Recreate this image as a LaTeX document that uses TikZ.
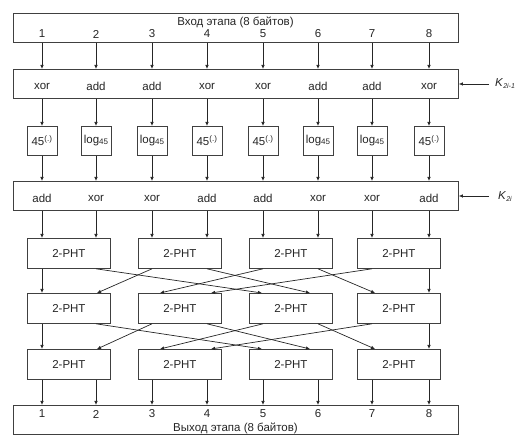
\documentclass[tikz,border=0pt]{standalone}
\usepackage{fontspec}
\setmainfont{Liberation Sans}
\usetikzlibrary{arrows.meta}
\begin{document}
\begin{tikzpicture}[x=1pt,y=-1pt,
  box/.style={draw=black!75, line width=0.8pt, inner sep=0pt, fill=white},
  wide/.style={box, anchor=north west, minimum width=445pt, minimum height=29pt},
  sbox/.style={box, anchor=north, minimum width=30pt, minimum height=29pt},
  pht/.style={box, anchor=north west, minimum width=83pt, minimum height=30pt},
  arr/.style={-{Latex[length=4pt,width=3.5pt]}, line width=0.7pt, draw=black!85},
  lbl/.style={font=\fontsize{11.5}{13}\selectfont, inner sep=0pt, text=black!85}]
\useasboundingbox (0,0) rectangle (525,443);
% columns
\foreach \i/\x in {1/42,2/96,3/152,4/207,5/263,6/318,7/372,8/429}
  \coordinate (c\i) at (\x,0);
% shuffled input positions for PHT rows 2 and 3
\foreach \i/\x in {1/42,2/97,3/160,4/211,5/262,6/310,7/375,8/429}
  \coordinate (d\i) at (\x,0);

% wide boxes
\node[wide] (in) at (13,13) {};
\node[wide] (x1) at (13,69) {};
\node[wide] (x2) at (13,181) {};
\node[wide] (out) at (13,405) {};

\node[lbl] (tin) at (235.5,22) {Вход этапа (8 байтов)};
\node[lbl] (tout) at (235.5,428) {Выход этапа (8 байтов)};
\foreach \i in {1,...,8} {
  \node[lbl] (nin\i) at (c\i |- 0,34) {\i};
  \node[lbl] (nout\i) at (c\i |- 0,414) {\i};
}

% key mixing operations
\foreach \i/\t in {1/xor,2/add,3/add,4/xor,5/xor,6/add,7/add,8/xor}
  \node[lbl] (o1\i) at (c\i |- 0,86) {\t};
\foreach \i/\t in {1/add,2/xor,3/xor,4/add,5/add,6/xor,7/xor,8/add}
  \node[lbl] (o2\i) at (c\i |- 0,198) {\t};

% nonlinear boxes
\newcommand{\expo}{45\textsuperscript{(.)}}
\newcommand{\logf}{log\raisebox{-0.8pt}{\fontsize{8}{9}\selectfont 45}}
\foreach \i/\t in {1/\expo,2/\logf,3/\logf,4/\expo,5/\expo,6/\logf,7/\logf,8/\expo}
  \node[sbox, lbl, draw=black!75] (s\i) at (c\i |- 0,126) {\t};

% PHT boxes
\foreach \r/\y in {1/238,2/293,3/349}
  \foreach \j/\x in {1/27,2/138,3/249,4/357}
    \node[pht, lbl, draw=black!75] (p\r\j) at (\x,\y) {2-PHT};

% keys
\node[lbl, anchor=west] (k1) at (495,84) {\textit{K}\raisebox{-2pt}{\fontsize{7}{8}\selectfont\itshape 2i-1}};
\node[lbl, anchor=west] (k2) at (498,197) {\textit{K}\raisebox{-2pt}{\fontsize{7}{8}\selectfont\itshape 2i}};
\coordinate (k1s) at (489,84);
\coordinate (k2s) at (489,196);
\draw[arr] (k1s) -- (x1.east |- k1s);
\draw[arr] (k2s) -- (x2.east |- k2s);

% vertical connectors
\foreach \i in {1,...,8} {
  \draw[arr] (in.south -| c\i) -- (x1.north -| c\i);
  \draw[arr] (x1.south -| c\i) -- (s\i.north);
  \draw[arr] (s\i.south) -- (x2.north -| c\i);
}
% into PHT row 1 and out of row 3
\foreach \j/\a/\b in {1/1/2,2/3/4,3/5/6,4/7/8} {
  \draw[arr] (x2.south -| c\a) -- (p1\j.north -| c\a);
  \draw[arr] (x2.south -| c\b) -- (p1\j.north -| c\b);
  \draw[arr] (p3\j.south -| c\a) -- (out.north -| c\a);
  \draw[arr] (p3\j.south -| c\b) -- (out.north -| c\b);
}
% shuffles between PHT rows
\foreach \r/\s in {1/2,2/3} {
  \draw[arr] (p\r1.south -| c1) -- (p\s1.north -| d1);
  \draw[arr] (p\r1.south -| c2) -- (p\s3.north -| d5);
  \draw[arr] (p\r2.south -| c3) -- (p\s1.north -| d2);
  \draw[arr] (p\r2.south -| c4) -- (p\s3.north -| d6);
  \draw[arr] (p\r3.south -| c5) -- (p\s2.north -| d3);
  \draw[arr] (p\r3.south -| c6) -- (p\s4.north -| d7);
  \draw[arr] (p\r4.south -| c7) -- (p\s2.north -| d4);
  \draw[arr] (p\r4.south -| c8) -- (p\s4.north -| d8);
}
\end{tikzpicture}
\end{document}
